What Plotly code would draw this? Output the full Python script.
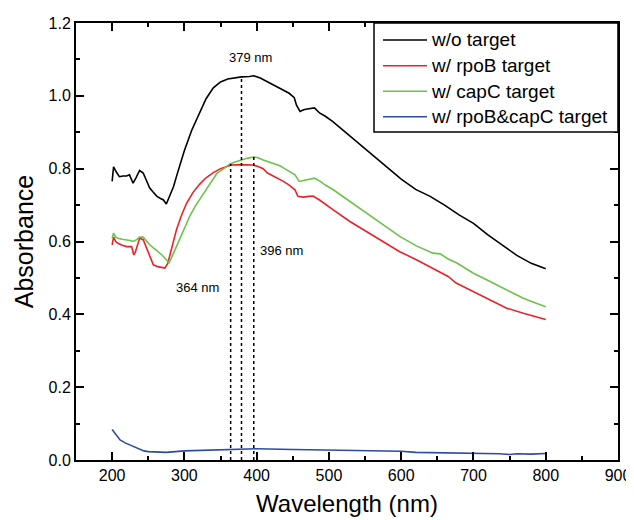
import plotly.graph_objects as go

# ---------------- data ----------------
black_nm = [200, 202, 206, 210, 215, 220, 224, 229, 233, 238, 243, 248, 252, 257, 262, 267, 271, 275,
            280, 285, 290, 296, 300, 310, 320, 330, 340, 350, 360, 370, 379, 390, 396, 405, 415, 425,
            435, 445, 452, 455, 460, 465, 470, 480, 487, 495, 505, 520, 530, 550, 575, 600, 620, 640,
            660, 680, 700, 720, 740, 760, 780, 800]
black_abs = [0.765, 0.805, 0.790, 0.778, 0.780, 0.780, 0.783, 0.760, 0.775, 0.795, 0.788, 0.765, 0.747,
             0.735, 0.724, 0.718, 0.714, 0.703, 0.725, 0.751, 0.785, 0.824, 0.850, 0.905, 0.950, 0.992,
             1.022, 1.038, 1.046, 1.050, 1.052, 1.053, 1.055, 1.049, 1.038, 1.028, 1.018, 1.007, 0.995,
             0.975, 0.957, 0.962, 0.964, 0.967, 0.953, 0.944, 0.930, 0.905, 0.888, 0.855, 0.811, 0.771,
             0.743, 0.724, 0.700, 0.673, 0.650, 0.618, 0.590, 0.562, 0.540, 0.525]

red_nm = [200, 202, 205, 208, 214, 220, 227, 230, 232, 235, 238, 243, 247, 250, 254, 257, 263, 268,
          273, 277, 283, 289, 296, 303, 312, 321, 330, 340, 350, 358, 365, 377, 395, 402, 409, 415,
          423, 437, 445, 453, 457, 464, 472, 478, 487, 495, 506, 529, 552, 575, 598, 621, 644, 665,
          676, 700, 723, 746, 769, 785, 800]
red_abs = [0.591, 0.612, 0.600, 0.595, 0.590, 0.586, 0.586, 0.563, 0.570, 0.591, 0.609, 0.605, 0.585,
           0.568, 0.550, 0.536, 0.531, 0.530, 0.527, 0.540, 0.585, 0.632, 0.672, 0.705, 0.735, 0.757,
           0.775, 0.789, 0.800, 0.806, 0.810, 0.811, 0.810, 0.806, 0.800, 0.788, 0.780, 0.765, 0.755,
           0.742, 0.724, 0.722, 0.724, 0.725, 0.714, 0.702, 0.687, 0.655, 0.627, 0.600, 0.572, 0.550,
           0.527, 0.504, 0.486, 0.462, 0.440, 0.417, 0.403, 0.395, 0.386]

green_nm = [200, 202, 205, 208, 214, 220, 225, 229, 234, 238, 243, 247, 252, 258, 264, 269, 273, 279,
            285, 294, 300, 308, 316, 322, 330, 340, 345, 355, 363, 370, 379, 388, 396, 402, 409, 420,
            432, 437, 445, 453, 459, 465, 470, 480, 488, 495, 506, 529, 552, 575, 598, 621, 644, 654,
            665, 677, 700, 723, 746, 769, 785, 800]
green_abs = [0.609, 0.623, 0.612, 0.609, 0.606, 0.605, 0.603, 0.600, 0.605, 0.612, 0.612, 0.603, 0.591,
             0.581, 0.572, 0.563, 0.554, 0.542, 0.568, 0.608, 0.638, 0.672, 0.700, 0.718, 0.745, 0.775,
             0.787, 0.801, 0.813, 0.818, 0.824, 0.829, 0.832, 0.830, 0.824, 0.816, 0.808, 0.802, 0.792,
             0.783, 0.765, 0.767, 0.769, 0.774, 0.765, 0.755, 0.742, 0.710, 0.678, 0.646, 0.614, 0.588,
             0.568, 0.566, 0.552, 0.541, 0.513, 0.490, 0.467, 0.444, 0.432, 0.421]

blue_nm = [200, 205, 211, 218, 225, 232, 238, 244, 250, 260, 275, 300, 330, 363, 400, 450, 500, 550,
           600, 620, 650, 680, 700, 720, 736, 750, 760, 780, 800]
blue_abs = [0.084, 0.070, 0.055, 0.047, 0.041, 0.034, 0.029, 0.025, 0.023, 0.022, 0.021, 0.025, 0.027,
            0.029, 0.031, 0.029, 0.027, 0.025, 0.024, 0.021, 0.020, 0.019, 0.018, 0.019, 0.017, 0.015,
            0.017, 0.016, 0.018]

series_names = ["w/o target", "w/ rpoB target", "w/ capC target", "w/ rpoB&capC target"]
series_colors = ["#000000", "#ec2227", "#6cc24a", "#2b4c9f"]

peak_nm = [364, 379, 396]
peak_top = [0.813, 1.052, 0.832]
peak_labels = ["364 nm", "379 nm", "396 nm"]

x_ticks = [200, 300, 400, 500, 600, 700, 800, 900]
y_ticks = [0.0, 0.2, 0.4, 0.6, 0.8, 1.0, 1.2]

# ---------------- figure ----------------
FONT = "Liberation Sans, Arial, sans-serif"
OFF = 8                      # page body margin shifts the figure by 8 px
W, H = 634 - OFF, 520 - OFF
ML, MR, MT, MB = 76 - OFF, 16, 23 - OFF, 60
PW, PH = W - ML - MR, H - MT - MB


def px2paper(px, py):
    """window pixel -> paper coordinates"""
    fx, fy = px - OFF, py - OFF
    return (fx - ML) / PW, (H - MB - fy) / PH


fig = go.Figure()

for xs, ys, name, col in zip([black_nm, red_nm, green_nm, blue_nm],
                             [black_abs, red_abs, green_abs, blue_abs],
                             series_names, series_colors):
    fig.add_trace(go.Scatter(x=xs, y=ys, mode="lines", name=name, showlegend=False,
                             line=dict(color=col, width=1.6)))

for nm, top in zip(peak_nm, peak_top):
    fig.add_trace(go.Scatter(x=[nm, nm], y=[0, top], mode="lines", showlegend=False,
                             hoverinfo="skip", line=dict(color="black", width=1.5, dash="dot")))

label_pos = {"364 nm": (318, 0.475), "379 nm": (391, 1.105), "396 nm": (434, 0.574)}
for lab in peak_labels:
    lx, ly = label_pos[lab]
    fig.add_annotation(x=lx, y=ly, text=lab, showarrow=False,
                       font=dict(family=FONT, size=13, color="black"))

# boxed legend in the top-right corner
x0, y0 = px2paper(374, 132)
x1, y1 = px2paper(618, 23)
fig.add_shape(type="rect", xref="paper", yref="paper", x0=x0, y0=y0, x1=x1, y1=y1,
              line=dict(color="black", width=1.5), fillcolor="white", layer="above")
entry_y = [40, 65.7, 91.2, 116.7]
for name, col, ey in zip(series_names, series_colors, entry_y):
    lx0, ly = px2paper(383, ey)
    lx1, _ = px2paper(427, ey)
    fig.add_shape(type="line", xref="paper", yref="paper", x0=lx0, x1=lx1, y0=ly, y1=ly,
                  line=dict(color=col, width=1.6), layer="above")
    tx, _ = px2paper(429, ey)
    fig.add_annotation(xref="paper", yref="paper", x=tx, y=ly, text=name, showarrow=False,
                       xanchor="left", yanchor="middle",
                       font=dict(family=FONT, size=19, color="black"))

axis_common = dict(showline=True, linecolor="black", linewidth=2, mirror="allticks",
                   ticks="inside", ticklen=8, tickwidth=1.5, tickcolor="black",
                   showgrid=False, zeroline=False, automargin=False,
                   tickfont=dict(family=FONT, size=16, color="black"))

fig.update_xaxes(range=[150, 900], tickvals=x_ticks, ticktext=[str(v) for v in x_ticks],
                 minor=dict(ticks="inside", ticklen=4, tickwidth=1.5, tickcolor="black", dtick=50, tick0=0),
                 title=dict(text="Wavelength (nm)", font=dict(family=FONT, size=24, color="black"), standoff=12),
                 **axis_common)
fig.update_yaxes(range=[0, 1.2], tickvals=y_ticks, ticktext=[f"{v:.1f}" for v in y_ticks],
                 minor=dict(ticks="inside", ticklen=4, tickwidth=1.5, tickcolor="black", dtick=0.1, tick0=0),
                 title=dict(text="Absorbance", font=dict(family=FONT, size=25, color="black"), standoff=8),
                 **axis_common)

fig.update_layout(
    width=W, height=H,
    margin=dict(l=ML, r=MR, t=MT, b=MB),
    paper_bgcolor="white", plot_bgcolor="white",
    showlegend=False,
)

fig.write_html("out.html")
